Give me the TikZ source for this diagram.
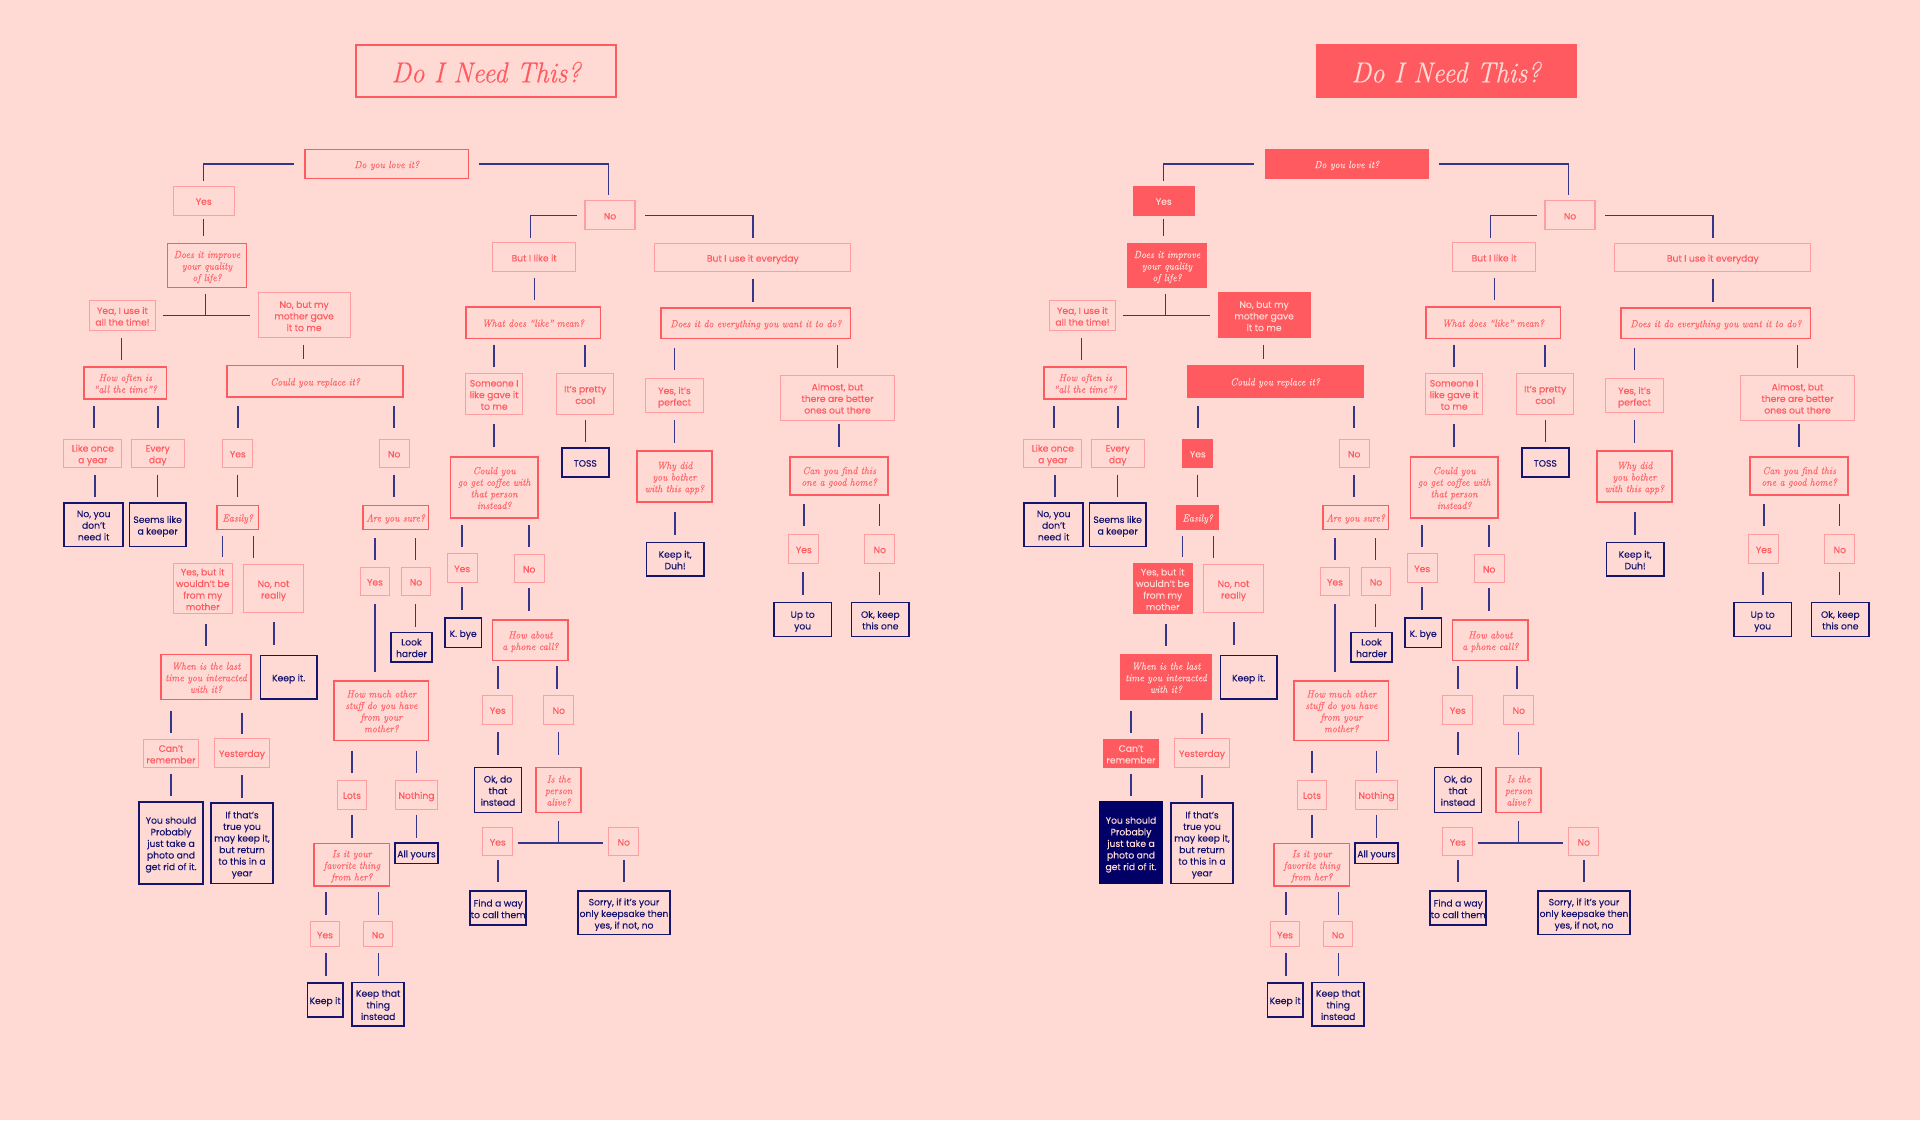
\documentclass[tikz,border=0pt]{standalone}
\usepackage{fontspec}
\setsansfont[FakeBold=0.1]{Poppins}
\newfontfamily\qfam[FakeStretch=0.93,FakeBold=0.2]{Latin Modern Roman}
\newfontfamily\tfam[FakeStretch=0.92,FakeBold=0.25]{Latin Modern Roman}
\definecolor{pagebg}{HTML}{FFD9D4}
\definecolor{hot}{HTML}{FF5A60}
\definecolor{soft}{HTML}{FF9EA0}
\definecolor{navy}{HTML}{15156F}
\definecolor{deep}{HTML}{000066}
\definecolor{wire}{HTML}{35358A}
\newcommand\sanstxt{\fontsize{9.2}{11.6}\selectfont\sffamily\def\tpad{3.6pt}}
\newcommand\sertxt{\fontsize{10.4}{11.6}\selectfont\qfam\itshape\def\tpad{3.6pt}}
\newcommand\ttltxt{\fontsize{29}{32}\selectfont\tfam\itshape\def\tpad{10pt}}
\tikzset{
  box/.style={inner sep=0pt,outer sep=0pt},
  ttl/.style={box,draw=hot,line width=1.5pt,text=hot,font=\ttltxt},
  qbox/.style={box,draw=hot,line width=1.5pt,text=hot!90!pagebg,font=\sertxt},
  abox/.style={box,draw=soft,line width=1.2pt,text=hot,font=\sanstxt},
  ebox/.style={box,draw=navy,line width=1.6pt,text=navy,font=\sanstxt},
  link/.style={draw=wire,line width=1.2pt},
  thot/.style={ttl},qhot/.style={qbox},ahot/.style={abox},ehot/.style={ebox},
  hotpanel/.style={
    thot/.style={box,fill=hot,draw=hot,line width=.8pt,text=pagebg,font=\ttltxt},
    qhot/.style={box,fill=hot,draw=hot,line width=.8pt,text=pagebg,font=\sertxt},
    ahot/.style={box,fill=hot,draw=hot,line width=.8pt,text=pagebg,font=\sanstxt},
    ehot/.style={box,fill=deep,draw=deep,line width=.8pt,text=pagebg,font=\sanstxt}},
}
% name, x0, x1, y0, y1, style, text
\newcommand\nd[7]{\node[#6,minimum width={(#3-#2-1)*1pt},minimum height={(#5-#4-1)*1pt}]
  (\pfx#1) at ({(#2+#3)/2},{(#4+#5)/2}) {\begin{tabular}{@{}c@{}}\noalign{\vskip\tpad}#7\end{tabular}};}
% from, to, x, gap at start, gap at end
\newcommand\lnk[5]{\coordinate (lx) at (#3,0);
  \draw[link,shorten <=#4pt,shorten >=#5pt] (\pfx#1.south -| lx) -- (\pfx#2.north -| lx);}
% from (anchor), to, x of the drop, gaps
\newcommand\elb[6]{\coordinate (lx) at (#4,0);
  \draw[link,shorten <=#5pt,shorten >=#6pt] (\pfx#1.#2) -| (\pfx#3.north -| lx);}
% bar between two nodes with stem from a third: stem, left, right, x, y, gaps
\newcommand\tee[8]{\coordinate (lx) at (#4,#5);
  \draw[link,shorten <=#6pt] (\pfx#1.south -| lx) -- (lx);
  \draw[link,shorten <=#7pt,shorten >=#8pt] (\pfx#2.east |- lx) -- (\pfx#3.west |- lx);}
\newcommand\panelbody{%
\nd{title}{355.5}{616.7}{44.3}{97.7}{thot}{Do I Need This?}
\nd{love}{304.5}{469}{149}{179}{qhot}{Do you love it?}
\nd{yes}{172.7}{234.7}{185.7}{215.7}{ahot}{Yes}
\nd{improve}{167}{247}{243}{288}{qhot}{Does it improve\\your quality\\of life?}
\nd{yea}{88.6}{156.3}{300.3}{331}{abox}{Yea, I use it\\all the time!}
\nd{nobut}{257.6}{350.6}{292.3}{338.3}{ahot}{No, but my\\mother gave\\it to me}
\nd{often}{83.7}{167}{366.3}{399.3}{qbox}{How often is\\“all the time”?}
\nd{could}{226.5}{403.7}{365}{397.7}{qhot}{Could you replace it?}
\nd{once}{63.3}{122.3}{438.6}{468}{abox}{Like once\\a year}
\nd{every}{130.7}{184.7}{438.6}{468}{abox}{Every\\day}
\nd{ryes}{222.3}{253.3}{438.6}{468}{ahot}{Yes}
\nd{rno}{378.7}{409.7}{438.6}{468}{abox}{No}
\nd{noyou}{63.7}{123.7}{502.4}{546.8}{ebox}{No, you\\don't\\need it}
\nd{seems}{129}{186.3}{502.4}{546.8}{ebox}{Seems like\\a keeper}
\nd{easily}{216.3}{259}{505}{529.8}{qhot}{Easily?}
\nd{sure}{362.3}{429}{505}{529.8}{qbox}{Are you sure?}
\nd{yesbut}{172.7}{232.7}{564.2}{613.1}{ahot}{Yes, but it\\wouldn't be\\from my\\mother}
\nd{nonot}{243.3}{303.7}{564.2}{613.1}{abox}{No, not\\really}
\nd{syes}{359.7}{390.3}{566.7}{596.1}{abox}{Yes}
\nd{sno}{400.7}{431.3}{566.7}{596.1}{abox}{No}
\nd{look}{390.7}{432.3}{631.8}{662.4}{ebox}{Look\\harder}
\nd{when}{160.3}{251.7}{654.1}{700.2}{qhot}{When is the last\\time you interacted\\with it?}
\nd{keepa}{260}{317.3}{655}{699.3}{ebox}{Keep it.}
\nd{much}{333.7}{429}{680.3}{741.2}{qbox}{How much other\\stuff do you have\\from your\\mother?}
\nd{cant}{142.7}{199.3}{738.7}{768.2}{ahot}{Can't\\remember}
\nd{yday}{213.7}{270.3}{737.9}{767.7}{abox}{Yesterday}
\nd{should}{138.7}{203.3}{801.3}{884.2}{ehot}{You should\\Probably\\just take a\\photo and\\get rid of it.}
\nd{ifthat}{210.7}{273.3}{802.6}{883.8}{ebox}{If that's\\true you\\may keep it,\\but return\\to this in a\\year}
\nd{lots}{336.7}{367.3}{779.8}{809.6}{abox}{Lots}
\nd{nothing}{394.7}{438.3}{779.8}{809.6}{abox}{Nothing}
\nd{fav}{313.7}{390}{843.2}{886.3}{qbox}{Is it your\\favorite thing\\from her?}
\nd{all}{394.7}{438.3}{842.4}{863.9}{ebox}{All yours}
\nd{fyes}{309.7}{340.3}{921.2}{947.3}{abox}{Yes}
\nd{fno}{362.7}{393.3}{921.2}{947.3}{abox}{No}
\nd{keepb}{307}{343.3}{982.5}{1017.3}{ebox}{Keep it}
\nd{keepc}{351.7}{404.7}{982}{1026.4}{ebox}{Keep that\\thing\\instead}
\nd{no}{584.5}{635.5}{200.3}{230.3}{abox}{No}
\nd{like}{492}{576.3}{242.3}{272.3}{abox}{But I like it}
\nd{use}{654.3}{851.3}{242.7}{272.3}{abox}{But I use it everyday}
\nd{what}{465.3}{600.8}{306.3}{339}{qbox}{What does “like” mean?}
\nd{every2}{660.7}{851}{307.3}{339}{qbox}{Does it do everything you want it to do?}
\nd{someone}{465}{523.3}{372.7}{415.3}{abox}{Someone I\\like gave it\\to me}
\nd{pretty}{556}{614.3}{372.7}{415.3}{abox}{It's pretty\\cool}
\nd{perfect}{645.3}{703.7}{378}{413.3}{abox}{Yes, it's\\perfect}
\nd{almost}{779.7}{895.3}{375}{420.7}{abox}{Almost, but\\there are better\\ones out there}
\nd{coffee}{450}{538.3}{456.3}{518.7}{qbox}{Could you\\go get coffee with\\that person\\instead?}
\nd{toss}{561.3}{609.3}{447.7}{477.3}{ebox}{TOSS}
\nd{why}{636.3}{712.7}{450.7}{502.3}{qbox}{Why did\\you bother\\with this app?}
\nd{home}{789.7}{888.7}{456.3}{495.3}{qbox}{Can you find this\\one a good home?}
\nd{cyes}{446.7}{477.7}{553}{583}{abox}{Yes}
\nd{cno}{513.7}{544.7}{553.7}{583.3}{abox}{No}
\nd{duh}{646}{704.3}{542}{576.7}{ebox}{Keep it,\\Duh!}
\nd{hyes}{788.3}{819.3}{534}{564}{abox}{Yes}
\nd{hno}{864.3}{895.3}{534}{564}{abox}{No}
\nd{upto}{773.3}{832}{602}{637}{ebox}{Up to\\you}
\nd{okkeep}{851}{909.7}{602}{637}{ebox}{Ok, keep\\this one}
\nd{kbye}{444.3}{482}{617.7}{648}{ebox}{K. bye}
\nd{phone}{492}{568.7}{619.3}{661}{qbox}{How about\\a phone call?}
\nd{pyes}{482.3}{513.3}{694.7}{724.7}{abox}{Yes}
\nd{pno}{543.3}{574.3}{694.7}{724.7}{abox}{No}
\nd{okdo}{474}{522}{767}{813}{ebox}{Ok, do\\that\\instead}
\nd{alive}{535.7}{581.7}{767}{813}{qbox}{Is the\\person\\alive?}
\nd{ayes}{482.3}{513.3}{826.7}{856.3}{abox}{Yes}
\nd{ano}{608.3}{639.3}{826.7}{856.3}{abox}{No}
\nd{way}{469.7}{526.7}{890.7}{925.7}{ebox}{Find a way\\to call them}
\nd{sorry}{577.7}{670.3}{890.7}{935}{ebox}{Sorry, if it's your\\only keepsake then\\yes, if not, no}
\elb{love}{west}{yes}{203.7}{11.5}{5.4}
\elb{love}{east}{no}{608.6}{10}{6}
\elb{no}{west}{like}{530.6}{8.5}{5.3}
\elb{no}{east}{use}{753}{10.2}{5}
\lnk{yes}{improve}{203.7}{3.6}{8}
\tee{improve}{yea}{nobut}{205.7}{315.3}{6.3}{7}{8.2}
\tee{alive}{ayes}{ano}{558.7}{843}{8.7}{5.4}{5.6}
\lnk{yea}{often}{121.6}{7.3}{6.6}
\lnk{nobut}{could}{303.3}{6.7}{6.3}
\lnk{like}{what}{534.3}{6}{6.6}
\lnk{what}{someone}{493.9}{6}{6}
\lnk{what}{pretty}{584.9}{6}{6}
\lnk{often}{once}{93.9}{7}{11}
\lnk{often}{every}{158}{7}{11}
\lnk{could}{ryes}{238}{8.6}{11}
\lnk{could}{rno}{393.9}{8.6}{11}
\lnk{once}{noyou}{95}{7}{6.2}
\lnk{every}{seems}{157.7}{7}{6.2}
\lnk{ryes}{easily}{237.7}{7}{8.8}
\lnk{rno}{sure}{394}{7}{8.8}
\lnk{easily}{yesbut}{222.7}{6.2}{6.7}
\lnk{easily}{nonot}{253.3}{6.2}{6.7}
\lnk{sure}{syes}{375}{9.1}{7.1}
\lnk{sure}{sno}{415.7}{9.1}{7.1}
\lnk{syes}{much}{375}{7.9}{8.7}
\lnk{sno}{look}{415.7}{7.9}{5.8}
\lnk{yesbut}{when}{206}{10.8}{8.7}
\lnk{nonot}{keepa}{274}{9.5}{10.8}
\lnk{when}{cant}{171}{11.2}{5.8}
\lnk{when}{yday}{242}{12.8}{4.2}
\lnk{cant}{should}{171}{6.2}{5.4}
\lnk{yday}{ifthat}{242}{7.9}{5.4}
\lnk{much}{lots}{352}{10}{7.1}
\lnk{much}{nothing}{416.7}{10}{7.1}
\lnk{lots}{fav}{352}{5.8}{6.2}
\lnk{nothing}{all}{416.7}{5.8}{5.4}
\lnk{fav}{fyes}{326}{6.2}{7.2}
\lnk{fav}{fno}{378.3}{6.2}{7.2}
\lnk{fyes}{keepb}{326}{6.6}{7}
\lnk{fno}{keepc}{378.3}{6.6}{6.5}
\lnk{someone}{coffee}{494}{9.4}{9.6}
\lnk{pretty}{toss}{585.3}{4.7}{6}
\lnk{use}{every2}{753}{7}{6.3}
\lnk{every2}{perfect}{674.7}{9}{8.3}
\lnk{every2}{almost}{837.7}{6.7}{7.3}
\lnk{perfect}{why}{674.7}{7.4}{8}
\lnk{almost}{home}{839}{4}{9.6}
\lnk{why}{duh}{675}{10}{7.7}
\lnk{home}{hyes}{804}{8.7}{8.3}
\lnk{home}{hno}{879.7}{8.7}{8.3}
\lnk{hyes}{upto}{803}{8.7}{7.3}
\lnk{hno}{okkeep}{879.7}{8.7}{7.3}
\lnk{coffee}{cyes}{462}{6.6}{6.3}
\lnk{coffee}{cno}{529}{6.6}{7}
\lnk{cyes}{kbye}{462}{4.7}{8.7}
\lnk{cno}{phone}{529}{5}{9.3}
\lnk{phone}{pyes}{498}{5.7}{6.4}
\lnk{phone}{pno}{557}{5.7}{6.4}
\lnk{pyes}{okdo}{498}{7.6}{12.7}
\lnk{pno}{alive}{558.7}{7.6}{12.7}
\lnk{ayes}{way}{498}{3.7}{9.4}
\lnk{ano}{sorry}{624}{3.7}{9.4}
}
\begin{document}
\begin{tikzpicture}[x=1pt,y=-1pt]
\fill[pagebg] (0,0) rectangle (1920,1120);
\useasboundingbox (0,0) rectangle (1920,1120);
\begin{scope}
\def\pfx{L}\panelbody
\end{scope}
\begin{scope}[shift={(960,0)},hotpanel]
\def\pfx{R}\panelbody
\end{scope}
\end{tikzpicture}
\end{document}
